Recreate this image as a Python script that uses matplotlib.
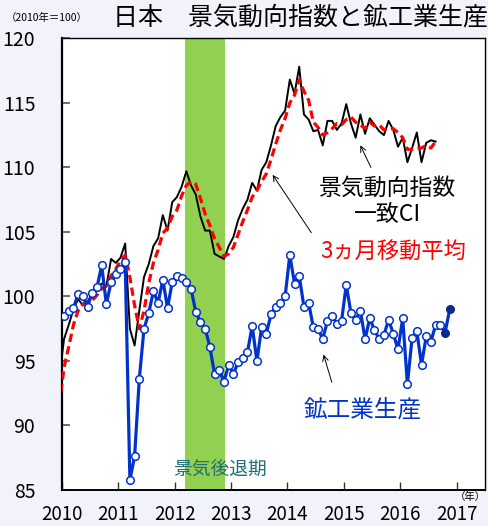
import matplotlib.pyplot as plt
import numpy as np

plt.rcParams['font.family'] = ['Noto Sans CJK JP', 'DejaVu Sans']

# 景気動向指数 一致CI (Dec 2009 - Aug 2016, monthly)
ci = [93.7, 96.7, 97.8, 99.0, 99.8, 99.3, 99.6, 100.2, 100.6, 101.0, 100.8,
      102.9, 102.6, 103.0, 104.1, 97.5, 96.2, 98.9, 101.5, 102.5, 103.9,
      104.5, 106.3, 105.1, 107.3, 107.7, 108.5, 109.7, 108.6, 107.9, 106.2,
      105.1, 105.1, 103.3, 103.1, 102.9, 103.9, 104.6, 105.9, 106.8, 107.5,
      108.8, 108.2, 109.8, 110.4, 111.7, 113.2, 113.9, 114.4, 116.8, 115.7,
      117.8, 114.1, 113.7, 112.8, 112.9, 111.7, 113.6, 113.6, 112.9, 113.4,
      114.9, 113.4, 112.3, 114.1, 112.6, 113.8, 113.3, 112.8, 112.5, 113.6,
      112.9, 111.6, 112.3, 110.4, 111.5, 112.7, 110.4, 111.9, 112.1, 112.0]

# 3ヵ月移動平均 (same months)
ci_ma3 = [91.6, 94.5, 96.1, 97.8, 98.9, 99.4, 99.6, 99.7, 100.1, 100.6, 100.8,
          101.6, 102.1, 102.8, 103.2, 101.5, 99.3, 97.5, 98.9, 101.0, 102.6,
          103.6, 104.9, 105.3, 106.2, 106.7, 107.8, 108.6, 108.9, 108.7, 107.6,
          106.4, 105.5, 104.5, 103.8, 103.1, 103.3, 103.8, 104.8, 105.8, 106.7,
          107.7, 108.2, 108.9, 109.5, 110.6, 111.8, 112.9, 113.8, 115.0, 115.6,
          116.8, 115.9, 115.2, 113.5, 113.1, 112.5, 112.7, 113.0, 113.4, 113.3,
          113.7, 113.9, 113.5, 113.3, 113.0, 113.5, 113.2, 113.3, 112.9, 113.0,
          113.0, 112.7, 112.3, 111.4, 111.4, 111.5, 111.5, 111.7, 111.5, 112.0]

# 鉱工業生産 (Jan 2010 - Sep 2016), then forecast Oct, Nov 2016
ip = [98.5, 98.9, 99.1, 100.2, 100.0, 99.2, 100.3, 100.7, 102.4, 99.4, 101.1,
      101.7, 102.1, 102.7, 85.8, 87.6, 93.6, 97.5, 98.7, 100.4, 99.5, 101.3,
      99.1, 101.1, 101.6, 101.4, 101.1, 100.6, 98.8, 98.0, 97.5, 96.1, 94.0,
      94.3, 93.4, 94.7, 94.0, 94.9, 95.2, 95.7, 97.7, 95.0, 97.6, 97.1, 98.6,
      99.2, 99.5, 100.0, 103.2, 101.0, 101.6, 99.2, 99.5, 97.6, 97.5, 96.7,
      98.1, 98.5, 97.9, 98.1, 100.9, 98.7, 98.2, 98.9, 96.7, 98.3, 97.4, 96.7,
      97.0, 98.2, 97.1, 95.9, 98.3, 93.2, 96.8, 97.3, 94.7, 96.9, 96.5, 97.8,
      97.8]
ip_forecast = [97.2, 99.0]

years = [2010, 2011, 2012, 2013, 2014, 2015, 2016, 2017]
recession = (2012.185, 2012.895)

# month positions (middle of each month)
ci_x = 2010 + (np.arange(-1, len(ci) - 1) + 0.5) / 12
ip_all = ip + ip_forecast
ip_x = 2010 + (np.arange(len(ip_all)) + 0.5) / 12
n_act = len(ip)

fig = plt.figure(figsize=(4.88, 5.26), dpi=100, facecolor='#F2F2FB')
ax = fig.add_axes([0.1264, 0.0684, 0.8675, 0.8588])
ax.set_facecolor('white')

ax.axvspan(recession[0], recession[1], color='#92D050', lw=0, zorder=1)

ax.plot(ci_x, ci, color='black', lw=1.4, zorder=3)
ax.plot(ci_x, ci_ma3, color='#FF0000', lw=2.3, linestyle=(0, (2.6, 1.4)), zorder=4)
ax.plot(ip_x, ip_all, color='#0033CC', lw=2.3, zorder=5)
ax.plot(ip_x[:n_act], ip, linestyle='none', marker='o', ms=5.5,
        mfc='white', mec='#0033CC', mew=1.1, zorder=6)
ax.plot(ip_x[n_act:], ip_forecast, linestyle='none', marker='o', ms=5.5,
        mfc='#0A2A8A', mec='#0A2A8A', zorder=6)

ax.set_xlim(2010, 2017.5)
ax.set_ylim(85, 120)
ax.set_xticks(years)
ax.set_xticklabels([str(y) for y in years])
ax.set_yticks(range(85, 121, 5))
ax.tick_params(axis='y', direction='in', length=6, width=1.2, color='#555555',
               labelsize=14, pad=19)
ax.tick_params(axis='x', direction='in', length=6, width=1, color='#333333',
               labelsize=13.5, pad=10)
for s in ax.spines.values():
    s.set_color('black')
    s.set_linewidth(1.0)
ax.spines['left'].set_linewidth(1.6)
ax.spines['bottom'].set_linewidth(1.4)

# labels and arrows
ax.text(2015.765, 107.35, '景気動向指数\n一致CI', ha='center', va='center',
        fontsize=16.5, linespacing=1.15, color='black', zorder=7)
ax.annotate('', xy=(2015.27, 111.9), xytext=(2015.50, 109.8),
            arrowprops=dict(arrowstyle='->', lw=0.7, color='black'))
ax.text(2015.87, 103.45, '3ヵ月移動平均', ha='center', va='center',
        fontsize=16, color='#FF0000', zorder=7)
ax.annotate('', xy=(2013.71, 109.6), xytext=(2014.45, 104.76),
            arrowprops=dict(arrowstyle='->', lw=0.7, color='black'))
ax.text(2015.34, 91.2, '鉱工業生産', ha='center', va='center',
        fontsize=17, color='#0033CC', zorder=7)
ax.annotate('', xy=(2014.625, 95.7), xytext=(2014.80, 93.14),
            arrowprops=dict(arrowstyle='->', lw=0.7, color='black'))
ax.text(2012.805, 86.6, '景気後退期', ha='center', va='center',
        fontsize=13.5, color='#1F6F75', zorder=7)

fig.text(0.2316, 0.9667, '日本\u3000景気動向指数と鉱工業生産', ha='left', va='center',
         fontsize=18)
fig.text(0.012, 0.9667, '（2010年＝100）', ha='left', va='center', fontsize=7.5)
fig.text(0.963, 0.0551, '（年）', ha='center', va='center', fontsize=7.5)

fig.savefig('out.png', dpi=100, facecolor=fig.get_facecolor())
